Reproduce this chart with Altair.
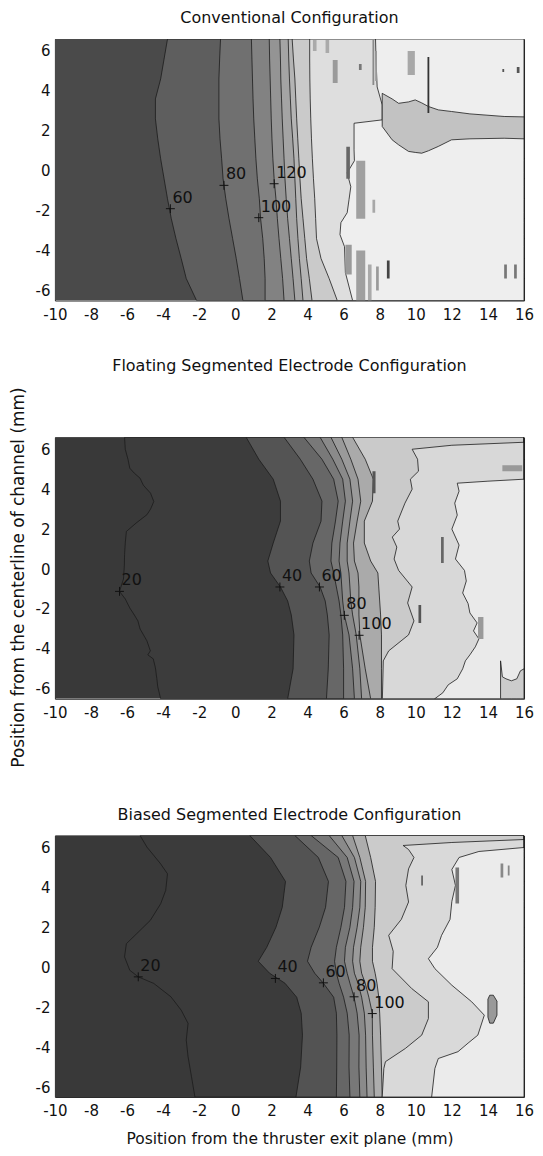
import altair as alt
import pandas as pd

X_MIN, X_MAX = -10, 16
Y_MIN, Y_MAX = -6.5, 6.6
x_ticks = [-10, -8, -6, -4, -2, 0, 2, 4, 6, 8, 10, 12, 14, 16]
y_ticks = [-6, -4, -2, 0, 2, 4, 6]

titles = ["Conventional Configuration",
          "Floating Segmented Electrode Configuration",
          "Biased Segmented Electrode Configuration"]
x_title = "Position from the thruster exit plane (mm)"
y_title = "Position from the centerline of channel (mm)"

# ---------------- Panel 1 : conventional ----------------
conv_y = [-6.5, -5.4, -4.4, -3.4, -2.4, -1.4, -0.4, 0.6, 1.6, 2.6, 3.6, 4.6, 5.6, 6.6]
conv_60 = [-2.15, -2.72, -3.0, -3.29, -3.55, -3.76, -3.95, -4.14, -4.3, -4.43, -4.43, -4.14, -3.95, -3.76]
conv_80 = [0.42, 0.23, 0.05, -0.15, -0.35, -0.53, -0.68, -0.76, -0.85, -0.91, -0.91, -0.91, -0.87, -0.82]
conv_100 = [1.65, 1.65, 1.6, 1.52, 1.4, 1.33, 1.22, 1.14, 1.08, 1.02, 0.98, 0.95, 0.92, 0.89]
conv_120 = [2.7, 2.62, 2.52, 2.42, 2.33, 2.25, 2.15, 2.08, 2.03, 1.99, 1.96, 1.93, 1.9, 1.88]
conv_140 = [3.3, 3.2, 3.1, 3.0, 2.9, 2.82, 2.75, 2.7, 2.65, 2.6, 2.56, 2.52, 2.5, 2.47]
conv_160 = [3.75, 3.65, 3.55, 3.47, 3.4, 3.35, 3.3, 3.25, 3.18, 3.1, 3.05, 3.0, 2.96, 2.93]
conv_180 = [4.25, 4.1, 3.95, 3.85, 3.75, 3.65, 3.58, 3.52, 3.46, 3.4, 3.35, 3.3, 3.22, 3.15]
conv_200 = [5.65, 5.2, 4.75, 4.5, 4.45, 4.4, 4.33, 4.27, 4.22, 4.18, 4.15, 4.13, 4.12, 4.12]
conv_edge_y = [-6.5, -5.1, -3.8, -3.2, -2.6, -2.1, -1.45, -0.8, -0.1, 0.5, 1.05, 2.38, 2.55, 3.3, 4.2, 5.5, 6.6]
conv_edge_x = [6.5, 6.1, 6.05, 5.8, 5.85, 6.2, 6.3, 6.4, 6.2, 6.6, 6.58, 6.58, 8.14, 8.14, 7.86, 7.8, 7.77]
conv_colors = ["#4a4a4a", "#5e5e5e", "#707070", "#828282", "#949494", "#a4a4a4",
               "#b4b4b4", "#cacaca", "#dedede", "#eeeeee"]
conv_patch_x = [8.14, 8.69, 9.05, 9.6, 9.97, 10.33, 10.7, 11.25, 11.98, 13.0, 14.9, 16.0]
conv_patch_lo = [2.22, 1.55, 1.3, 0.97, 0.92, 0.88, 1.0, 1.22, 1.55, 1.6, 1.63, 1.6]
conv_patch_hi = [3.88, 3.6, 3.38, 3.45, 3.55, 3.4, 3.22, 3.05, 2.97, 2.85, 2.72, 2.7]
conv_patch_color = "#c2c2c2"
conv_speck_x1 = [5.4, 6.85, 7.6, 7.75, 9.55, 10.65, 6.15, 6.7, 7.6, 6.1, 6.7, 7.35, 7.8, 8.4, 14.9, 15.45, 15.6, 14.8, 4.3, 5.0]
conv_speck_x2 = [5.67, 7.0, 7.7, 7.85, 9.95, 10.75, 6.35, 7.2, 7.75, 6.45, 7.2, 7.55, 7.95, 8.55, 15.05, 15.6, 15.75, 14.9, 4.5, 5.2]
conv_speck_y1 = [4.4, 5.05, 4.3, 4.5, 4.8, 2.9, -0.4, -2.4, -2.1, -5.2, -6.5, -6.5, -6.0, -5.4, -5.4, -5.4, 4.9, 4.95, 6.0, 5.9]
conv_speck_y2 = [5.55, 5.35, 6.55, 6.0, 6.0, 5.7, 1.2, 0.5, -1.45, -3.7, -4.0, -4.7, -4.8, -4.5, -4.7, -4.7, 5.2, 5.1, 6.55, 6.55]
conv_speck_c = ["#9a9a9a", "#777777", "#8a8a8a", "#999999", "#a8a8a8", "#333333", "#666666", "#a0a0a0",
                "#a8a8a8", "#9a9a9a", "#a0a0a0", "#aaaaaa", "#9a9a9a", "#444444", "#777777", "#777777",
                "#555555", "#555555", "#aaaaaa", "#aaaaaa"]
conv_lab_t = ["60", "80", "100", "120"]
conv_lab_x = [-3.6, -0.63, 1.3, 2.15]
conv_lab_y = [-1.9, -0.73, -2.35, -0.65]

# ---------------- Panel 2 : floating ----------------
float_20_y = [-6.5, -5.9, -5.5, -4.95, -4.5, -4.3, -4.1, -3.6, -3.0, -2.6, -2.3, -1.95, -1.5, -1.12, -0.5, 0.2,
              0.72, 1.3, 1.88, 2.3, 2.72, 3.0, 3.38, 3.8, 4.2, 4.55, 4.8, 5.05, 5.5, 6.0, 6.6]
float_20_x = [-4.14, -4.3, -4.35, -4.43, -4.55, -4.85, -4.71, -4.9, -5.28, -5.4, -5.6, -5.85, -6.1, -6.42, -6.2,
              -6.15, -6.14, -6.1, -6.04, -5.5, -4.9, -4.7, -4.52, -4.7, -5.1, -5.28, -5.6, -5.85, -5.95, -6.1, -6.14]
float_y = [-6.5, -5.0, -3.3, -2.3, -1.6, -0.9, -0.2, 0.4, 1.3, 2.4, 3.4, 4.5, 5.5, 6.6]
float_40 = [2.9, 3.2, 3.25, 3.1, 2.9, 2.5, 1.95, 1.8, 2.1, 2.5, 2.5, 2.1, 1.3, 0.6]
float_60 = [5.05, 5.15, 5.2, 5.1, 4.98, 4.7, 4.2, 4.1, 4.3, 4.75, 4.8, 4.3, 3.6, 2.7]
float_70 = [6.0, 6.0, 5.95, 5.85, 5.75, 5.6, 5.45, 5.3, 5.35, 5.55, 5.7, 5.45, 4.8, 3.8]
float_80 = [6.6, 6.5, 6.3, 6.04, 5.95, 5.9, 5.85, 5.75, 5.8, 5.95, 6.1, 5.95, 5.4, 4.7]
float_90 = [7.0, 6.9, 6.7, 6.5, 6.4, 6.35, 6.3, 6.2, 6.2, 6.35, 6.5, 6.35, 5.9, 5.3]
float_100 = [7.5, 7.2, 6.9, 6.85, 6.85, 6.85, 6.8, 6.6, 6.55, 6.75, 6.95, 6.8, 6.4, 5.9]
float_110 = [8.1, 8.1, 8.1, 8.05, 8.0, 7.95, 7.9, 7.5, 7.15, 7.15, 7.6, 7.65, 7.2, 6.5]
float_edge1_y = [-6.5, -4.6, -4.1, -3.3, -2.6, -1.7, -0.9, -0.07, 0.5, 1.1, 1.6, 2.0, 2.4, 3.3, 4.0, 4.5, 4.9, 5.5, 6.0, 6.2, 6.35, 6.6]
float_edge1_x = [8.15, 8.2, 8.5, 9.6, 9.9, 9.55, 9.8, 9.05, 8.8, 8.95, 8.7, 9.1, 9.0, 9.4, 9.8, 9.7, 10.15, 10.1, 9.8, 12.0, 16.0, 16.0]
float_edge2_y = [-6.5, -6.2, -5.8, -5.5, -5.0, -4.6, -4.3, -3.9, -3.5, -3.1, -2.7, -2.2, -1.73, -1.2, -0.6,
                 -0.07, 0.5, 1.2, 2.0, 2.7, 3.3, 3.9, 4.3, 4.4, 4.5, 6.6]
float_edge2_x = [11.05, 11.5, 11.8, 12.3, 12.6, 12.75, 13.0, 13.3, 13.5, 13.2, 13.4, 13.0, 12.9, 12.6, 12.8,
                 12.7, 12.2, 12.4, 12.0, 12.3, 12.16, 12.4, 12.3, 14.0, 16.0, 16.0]
float_colors = ["#393939", "#3c3c3c", "#545454", "#676767", "#797979", "#8a8a8a", "#9a9a9a",
                "#aaaaaa", "#cacaca", "#d8d8d8", "#eaeaea"]
float_patch_x = [14.7, 14.8, 15.0, 15.3, 15.6, 15.8, 16.0]
float_patch_lo = [-6.5, -6.5, -6.5, -6.5, -6.5, -6.5, -6.5]
float_patch_hi = [-4.6, -5.4, -5.5, -5.6, -5.5, -5.1, -5.0]
float_patch_color = "#cccccc"
float_speck_x1 = [7.6, 10.15, 11.4, 13.45, 14.8]
float_speck_x2 = [7.77, 10.3, 11.55, 13.75, 15.9]
float_speck_y1 = [3.8, -2.7, 0.3, -3.5, 4.9]
float_speck_y2 = [4.9, -1.8, 1.6, -2.4, 5.2]
float_speck_c = ["#555555", "#555555", "#666666", "#9a9a9a", "#999999"]
float_lab_t = ["20", "40", "60", "80", "100"]
float_lab_x = [-6.42, 2.47, 4.66, 6.04, 6.86]
float_lab_y = [-1.12, -0.9, -0.9, -2.32, -3.32]

# ---------------- Panel 3 : biased ----------------
bias_20_y = [-6.5, -5.48, -4.48, -3.65, -2.81, -2.15, -1.48, -0.81, -0.48, -0.15, 0.52, 1.18, 1.68, 2.35,
             3.18, 3.85, 4.68, 5.18, 6.02, 6.6]
bias_20_x = [-2.24, -2.43, -2.62, -2.72, -2.62, -3.0, -3.57, -4.52, -5.38, -5.85, -6.14, -6.04, -5.47, -4.71,
             -4.14, -3.86, -3.76, -4.14, -4.9, -5.28]
bias_y = [-6.5, -5.0, -3.4, -2.3, -1.5, -0.8, -0.3, 0.3, 1.0, 2.0, 3.0, 4.3, 5.5, 6.6]
bias_40 = [3.36, 3.62, 3.72, 3.65, 3.4, 2.75, 1.9, 1.27, 1.74, 2.25, 2.6, 2.78, 1.95, 0.8]
bias_60 = [5.6, 5.62, 5.63, 5.6, 5.45, 4.88, 4.4, 4.0, 4.2, 4.65, 5.0, 5.16, 4.6, 3.3]
bias_70 = [6.35, 6.3, 6.31, 6.2, 6.0, 5.75, 5.6, 5.5, 5.6, 5.85, 6.05, 6.13, 5.7, 4.2]
bias_80 = [6.9, 6.85, 6.86, 6.75, 6.58, 6.35, 6.2, 6.05, 6.1, 6.35, 6.5, 6.58, 6.2, 5.2]
bias_90 = [7.3, 7.25, 7.22, 7.15, 7.0, 6.8, 6.6, 6.5, 6.55, 6.75, 6.9, 6.95, 6.6, 5.9]
bias_100 = [7.7, 7.65, 7.6, 7.59, 7.4, 7.2, 7.0, 6.9, 6.95, 7.1, 7.2, 7.22, 6.9, 6.5]
bias_110 = [8.14, 8.1, 8.05, 8.0, 7.95, 7.85, 7.75, 7.6, 7.6, 7.7, 7.75, 7.77, 7.5, 7.2]
bias_edge1_y = [-6.5, -5.07, -4.73, -4.07, -3.4, -2.57, -1.73, -1.07, -0.07, 0.8, 1.6, 2.4, 3.27, 4.1, 4.93, 5.5, 5.9, 6.1, 6.25, 6.4, 6.6]
bias_edge1_x = [8.14, 8.23, 8.32, 9.42, 10.33, 10.7, 10.7, 9.78, 8.69, 8.75, 8.5, 9.2, 9.6, 9.45, 9.6, 9.9, 9.6, 9.3, 12.0, 16.0, 16.0]
bias_edge2_y = [-6.5, -5.07, -4.57, -4.23, -3.8, -3.4, -2.4, -1.73, -0.9, -0.07, 0.43, 1.0, 1.6, 2.4, 3.3, 4.1, 4.9, 5.5, 5.8, 6.0, 6.6]
bias_edge2_x = [10.88, 11.06, 11.25, 12.34, 12.9, 13.44, 13.8, 13.1, 12.0, 11.06, 10.7, 11.2, 11.43, 11.9, 12.0, 12.2, 12.0, 12.4, 13.5, 16.0, 16.0]
bias_colors = ["#393939", "#3b3b3b", "#535353", "#666666", "#787878", "#8a8a8a", "#9b9b9b",
               "#adadad", "#cbcbcb", "#d9d9d9", "#ebebeb"]
bias_patch_x = [14.0, 14.1, 14.3, 14.5]
bias_patch_lo = [-2.5, -2.8, -2.8, -2.4]
bias_patch_hi = [-1.6, -1.4, -1.4, -1.7]
bias_patch_color = "#999999"
bias_speck_x1 = [14.7, 15.1, 12.2, 10.3]
bias_speck_x2 = [14.85, 15.2, 12.4, 10.4]
bias_speck_y1 = [4.5, 4.6, 3.2, 4.1]
bias_speck_y2 = [5.2, 5.1, 5.0, 4.6]
bias_speck_c = ["#888888", "#888888", "#777777", "#666666"]
bias_lab_t = ["20", "40", "60", "80", "100"]
bias_lab_x = [-5.38, 2.22, 4.88, 6.58, 7.59]
bias_lab_y = [-0.48, -0.56, -0.78, -1.48, -2.32]

# ---------------- drawing helpers ----------------
FONT = "DejaVu Sans"
LINE = "#1c1c1c"
TEXT = "#111111"
PLOT_W, PLOT_H = 470, 262
xscale = alt.Scale(domain=[X_MIN, X_MAX], nice=False, zero=False)
yscale = alt.Scale(domain=[Y_MIN, Y_MAX], nice=False, zero=False)


def xaxis(with_title):
    kw = dict(values=x_ticks, ticks=False, domain=False, grid=False, labelPadding=7,
              labelFontSize=15, labelFont=FONT, labelColor=TEXT, labelFlush=False, labelOverlap=False,
              labelExpr="'' + datum.value")
    if with_title:
        kw.update(title=x_title, titleFont=FONT, titleFontSize=15.5, titleFontWeight="normal",
                  titleColor=TEXT, titlePadding=13)
    else:
        kw.update(title=None)
    return alt.Axis(**kw)


def yaxis(with_title):
    kw = dict(values=y_ticks, ticks=False, domain=False, grid=False, labelPadding=5,
              labelFontSize=15, labelFont=FONT, labelColor=TEXT, labelFlush=False, labelOverlap=False,
              labelExpr="'' + datum.value")
    if with_title:
        kw.update(title=y_title, titleFont=FONT, titleFontSize=17, titleFontWeight="normal",
                  titleColor=TEXT, titlePadding=8, titleY=140)
    else:
        kw.update(title=None)
    return alt.Axis(**kw)


def background(color, ax, ay):
    df = pd.DataFrame({"y": [Y_MIN, Y_MAX], "x": [X_MIN, X_MIN], "x_end": [X_MAX, X_MAX]})
    return alt.Chart(df).mark_area(orient="horizontal", fill=color, clip=True).encode(
        y=alt.Y("y:Q", scale=yscale, axis=ay),
        x=alt.X("x:Q", scale=xscale, axis=ax),
        x2="x_end:Q",
    )


def band(ys, xs, color, ax, ay):
    df = pd.DataFrame({"y": ys, "x": xs})
    df["x_end"] = X_MAX
    return alt.Chart(df).mark_area(orient="horizontal", fill=color, stroke=LINE,
                                   strokeWidth=0.8, clip=True).encode(
        y=alt.Y("y:Q", scale=yscale, axis=ay),
        x=alt.X("x:Q", scale=xscale, axis=ax),
        x2="x_end:Q",
    )


def vpatch(xs, lo, hi, color, ax, ay):
    df = pd.DataFrame({"x": xs, "lo": lo, "hi": hi})
    return alt.Chart(df).mark_area(orient="vertical", fill=color, stroke=LINE,
                                   strokeWidth=0.8, clip=True).encode(
        x=alt.X("x:Q", scale=xscale, axis=ax),
        y=alt.Y("lo:Q", scale=yscale, axis=ay),
        y2="hi:Q",
    )


def specks(x1, x2, y1, y2, c, ax, ay):
    df = pd.DataFrame({"x1": x1, "x2": x2, "y1": y1, "y2": y2, "c": c})
    return alt.Chart(df).mark_rect(clip=True).encode(
        x=alt.X("x1:Q", scale=xscale, axis=ax), x2="x2:Q",
        y=alt.Y("y1:Q", scale=yscale, axis=ay), y2="y2:Q",
        fill=alt.Fill("c:N", scale=None),
    )


def labels(t, x, y, ax, ay):
    df = pd.DataFrame({"t": t, "x": x, "y": y})
    base = alt.Chart(df).encode(
        x=alt.X("x:Q", scale=xscale, axis=ax),
        y=alt.Y("y:Q", scale=yscale, axis=ay),
    )
    plus = base.mark_point(shape="M-1,0L1,0M0,-1L0,1", size=80, filled=False,
                           stroke="#111111", strokeWidth=1, opacity=1)
    txt = base.mark_text(align="left", baseline="bottom", dx=2, dy=-3, fontSize=16,
                         font=FONT, color=TEXT).encode(text="t:N")
    return [plus, txt]


def panel(title, colors, bands, patch, spk, lab, xt, yt):
    ax = xaxis(xt)
    ay = yaxis(yt)
    layers = [background(colors[0], ax, ay)]
    for (ys, xs), col in zip(bands, colors[1:]):
        layers.append(band(ys, xs, col, ax, ay))
    layers.append(vpatch(*patch, ax, ay))
    layers.append(specks(*spk, ax, ay))
    layers += labels(*lab, ax, ay)
    return alt.layer(*layers).properties(
        width=PLOT_W, height=PLOT_H,
        title=alt.Title(title, font=FONT, fontSize=16, fontWeight="normal", color=TEXT, offset=13),
    )


p1 = panel(titles[0], conv_colors,
           [(conv_y, conv_60), (conv_y, conv_80), (conv_y, conv_100), (conv_y, conv_120),
            (conv_y, conv_140), (conv_y, conv_160), (conv_y, conv_180), (conv_y, conv_200),
            (conv_edge_y, conv_edge_x)],
           (conv_patch_x, conv_patch_lo, conv_patch_hi, conv_patch_color),
           (conv_speck_x1, conv_speck_x2, conv_speck_y1, conv_speck_y2, conv_speck_c),
           (conv_lab_t, conv_lab_x, conv_lab_y), False, False)

p2 = panel(titles[1], float_colors,
           [(float_20_y, float_20_x), (float_y, float_40), (float_y, float_60), (float_y, float_70),
            (float_y, float_80), (float_y, float_90), (float_y, float_100), (float_y, float_110),
            (float_edge1_y, float_edge1_x), (float_edge2_y, float_edge2_x)],
           (float_patch_x, float_patch_lo, float_patch_hi, float_patch_color),
           (float_speck_x1, float_speck_x2, float_speck_y1, float_speck_y2, float_speck_c),
           (float_lab_t, float_lab_x, float_lab_y), False, True)

p3 = panel(titles[2], bias_colors,
           [(bias_20_y, bias_20_x), (bias_y, bias_40), (bias_y, bias_60), (bias_y, bias_70),
            (bias_y, bias_80), (bias_y, bias_90), (bias_y, bias_100), (bias_y, bias_110),
            (bias_edge1_y, bias_edge1_x), (bias_edge2_y, bias_edge2_x)],
           (bias_patch_x, bias_patch_lo, bias_patch_hi, bias_patch_color),
           (bias_speck_x1, bias_speck_x2, bias_speck_y1, bias_speck_y2, bias_speck_c),
           (bias_lab_t, bias_lab_x, bias_lab_y), True, False)

chart = alt.vconcat(p1, p2, p3, spacing=137, bounds="flush").properties(
    padding={"left": 0, "top": 0, "right": 0, "bottom": 0}
).configure_view(stroke="#2a2a2a", strokeWidth=1)

chart.save("out.html", embed_options={"renderer": "svg", "actions": False})
